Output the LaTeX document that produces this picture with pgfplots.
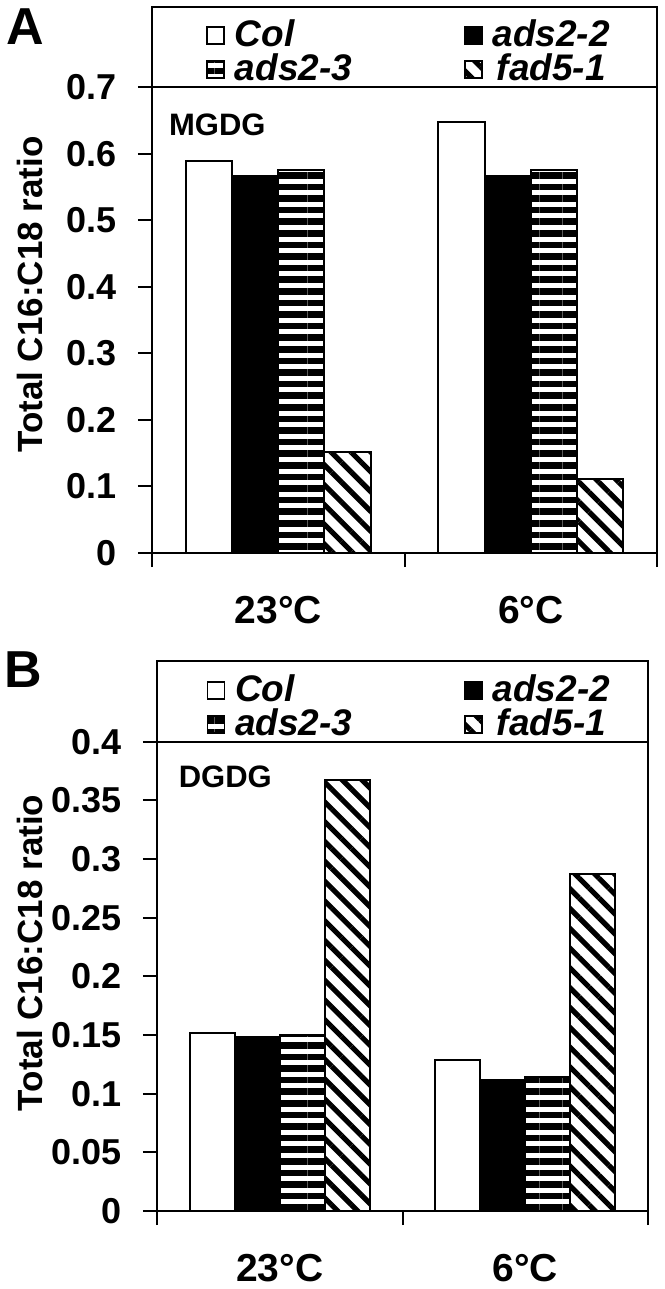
\documentclass[border=0pt]{standalone}
\usepackage{fontspec}
\setmainfont{Liberation Sans}
\usepackage{pgfplots}
\usepackage{pgfplotstable}
\pgfplotsset{compat=1.18}
\usetikzlibrary{patterns.meta}

\pgfplotstableread{
x col ads22 ads23 fad
0 0.589 0.567 0.576 0.152
1 0.648 0.567 0.576 0.111
}\mgdg
\pgfplotstableread{
x col ads22 ads23 fad
0 0.152 0.148 0.150 0.367
1 0.129 0.112 0.114 0.287
}\dgdg

\newcommand{\fs}[1]{\fontsize{#1}{#1}\selectfont\bfseries}

\pgfplotsset{
  panel/.style={
    scale only axis,
    ybar=0pt, bar width=0.183,
    xmin=-0.5, xmax=1.5, ymin=0,
    xtick={-0.5,0.5,1.5}, xticklabels={},
    extra x ticks={0,1},
    extra x tick labels={23°C,6°C},
    extra x tick style={major tick length=0pt, xticklabel style={yshift=-18pt}},
    tick align=outside, major tick length=7pt,
    xtick pos=bottom, ytick pos=left,
    axis line style={line width=1pt},
    every tick/.style={black, line width=1pt},
    /pgf/number format/assume math mode=true,
    yticklabel style={font=\fs{18}, inner sep=2pt, xshift=-8.5pt},
    xticklabel style={font=\fs{19.5}},
    ylabel={Total C16:C18 ratio},
    clip=false,
    legend columns=2,
    legend style={draw=none, fill=none, anchor=west, row sep=4.5pt, column sep=0pt,
      nodes={font=\fs{18.5}\itshape, inner sep=0pt, text height=12.5pt, text depth=0pt},
      /tikz/every odd column/.append style={column sep=5pt},
      /tikz/column 2/.append style={nodes={text width=114.5pt}},
    },
    legend image code/.code={\draw[#1,line width=0.8pt] (0pt,-5pt) rectangle (8.5pt,3.5pt);},
  },
  bcol/.style={fill=white, draw=black, line width=1pt},
  bads22/.style={fill=black, draw=black, line width=1pt},
  bads23/.style={draw=black, line width=1pt, pattern={Lines[angle=0,distance=5.8pt,line width=3.3pt]}},
  bfad/.style={draw=black, line width=1pt, pattern={Lines[angle=-45,distance=7pt,line width=2.6pt]}},
}

\begin{document}
\begin{tikzpicture}
\useasboundingbox (0,0) rectangle (332pt,-644.5pt);
\node[font=\fs{26}] at (12.5pt,-13.5pt) {A};
\node[font=\fs{26}] at (11.5pt,-335pt) {B};

\begin{axis}[panel, at={(76pt,-276.5pt)}, anchor=south west, width=252.5pt, height=232.85pt,
  ymax=0.7, ytick={0,0.1,0.2,0.3,0.4,0.5,0.6,0.7}, yticklabels={0,0.1,0.2,0.3,0.4,0.5,0.6,0.7},
  every axis y label/.style={at={(axis description cs:-0.2416,0.555)}, rotate=90, anchor=center, font=\fs{17.5}},
  legend style={at={(axis description cs:0.095,1)}, yshift=18pt}]
\addplot[bcol] table[x=x,y=col]{\mgdg};
\addlegendentry{Col}
\addplot[bads22] table[x=x,y=ads22]{\mgdg};
\addlegendentry{ads2-2}
\addplot[bads23] table[x=x,y=ads23]{\mgdg};
\addlegendentry{ads2-3}
\addplot[bfad] table[x=x,y=fad]{\mgdg};
\addlegendentry{fad5-1}
\draw[line width=1pt] (rel axis cs:0,1) -- ([yshift=40.3pt]rel axis cs:0,1) -- ([yshift=40.3pt]rel axis cs:1,1) -- (rel axis cs:1,1);
\node[anchor=west, font=\fs{15.5}] at (rel axis cs:0.02,0.92) {MGDG};
\end{axis}

\begin{axis}[panel, at={(78.5pt,-605.5pt)}, anchor=south west, width=245.5pt, height=234.65pt,
  ymax=0.4, ytick={0,0.05,0.1,0.15,0.2,0.25,0.3,0.35,0.4}, yticklabels={0,0.05,0.1,0.15,0.2,0.25,0.3,0.35,0.4},
  every axis y label/.style={at={(axis description cs:-0.2587,0.55)}, rotate=90, anchor=center, font=\fs{17.5}},
  legend style={at={(axis description cs:0.088,1)}, yshift=18pt}]
\addplot[bcol] table[x=x,y=col]{\dgdg};
\addlegendentry{Col}
\addplot[bads22] table[x=x,y=ads22]{\dgdg};
\addlegendentry{ads2-2}
\addplot[bads23] table[x=x,y=ads23]{\dgdg};
\addlegendentry{ads2-3}
\addplot[bfad] table[x=x,y=fad]{\dgdg};
\addlegendentry{fad5-1}
\draw[line width=1pt] (rel axis cs:0,1) -- ([yshift=40.5pt]rel axis cs:0,1) -- ([yshift=40.5pt]rel axis cs:1,1) -- (rel axis cs:1,1);
\node[anchor=west, font=\fs{15.5}] at (rel axis cs:0.03,0.925) {DGDG};
\end{axis}
\end{tikzpicture}
\end{document}
